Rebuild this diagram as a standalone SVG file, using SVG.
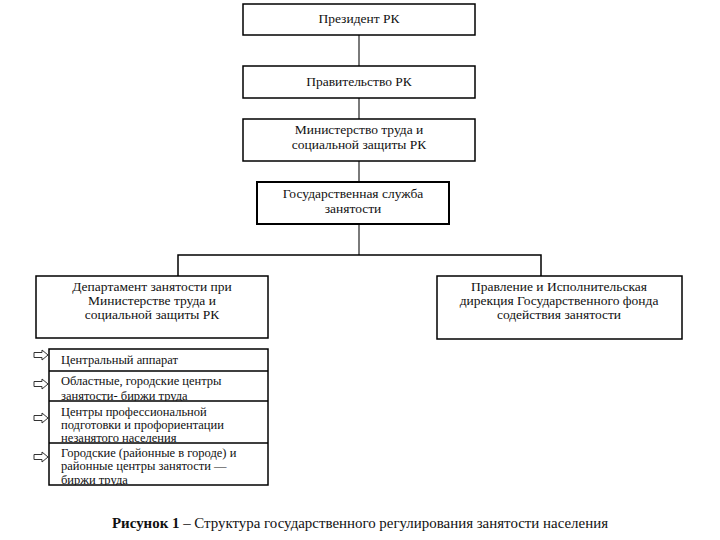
<svg xmlns="http://www.w3.org/2000/svg" width="720" height="540" viewBox="0 0 720 540">
<style>
.box{fill:#fff;stroke:#000;stroke-width:1.5}
.t{font-family:"Liberation Serif","Times New Roman",serif;font-size:13.5px;fill:#111;text-anchor:middle}
.s{font-family:"Liberation Serif","Times New Roman",serif;font-size:12.5px;fill:#111}
.cg{stroke:#7a7a7a;stroke-width:2;fill:none}
.cb{stroke:#000;stroke-width:1.5;fill:none}
.arr{fill:#fff;stroke:#333;stroke-width:1}
.cap{font-family:"Liberation Serif","Times New Roman",serif;font-size:14px;fill:#111}
</style>
<defs>
<clipPath id="r1"><rect x="49" y="349" width="219" height="22"/></clipPath>
<clipPath id="r2"><rect x="49" y="371" width="219" height="30"/></clipPath>
<clipPath id="r3"><rect x="49" y="401" width="219" height="42"/></clipPath>
<clipPath id="r4"><rect x="49" y="443" width="219" height="42"/></clipPath>
<path id="ar" d="M0,-2.5 H8 V-5 L14,0 L8,5 V2.5 H0 Z"/>
</defs>
<rect width="720" height="540" fill="#fff"/>
<g id="connectors">
<path class="cg" d="M359,35 V66 M359,98 V119 M359,161 V182 M359,224 V255"/>
<path class="cb" d="M178,276 V255 H541 V276"/>
</g>
<g id="president">
<rect class="box" x="243" y="4" width="232" height="31"/>
<text class="t" x="359" y="23">Президент РК</text>
</g>
<g id="government">
<rect class="box" x="243" y="66" width="232" height="32"/>
<text class="t" x="359" y="86">Правительство РК</text>
</g>
<g id="ministry">
<rect class="box" x="243" y="119" width="232" height="42"/>
<text class="t" x="359" y="134">Министерство труда и</text>
<text class="t" x="359" y="149">социальной защиты РК</text>
</g>
<g id="service">
<rect class="box" x="257" y="182" width="192" height="42" style="stroke-width:2"/>
<text class="t" x="353" y="198">Государственная служба</text>
<text class="t" x="353" y="213">занятости</text>
</g>
<g id="department">
<rect class="box" x="36" y="276" width="232" height="62"/>
<text class="t" x="152" y="291">Департамент занятости при</text>
<text class="t" x="152" y="305">Министерстве труда и</text>
<text class="t" x="152" y="319">социальной защиты РК</text>
</g>
<g id="fund">
<rect class="box" x="437" y="276" width="245" height="63"/>
<text class="t" x="559" y="291">Правление и Исполнительская</text>
<text class="t" x="559" y="305">дирекция Государственного фонда</text>
<text class="t" x="559" y="319">содействия занятости</text>
</g>
<g id="list">
<rect class="box" x="49" y="349" width="219" height="136"/>
<path class="cb" d="M49,371 H268 M49,401 H268 M49,443 H268"/>
<g clip-path="url(#r1)"><text class="s" x="61" y="364">Центральный аппарат</text></g>
<g clip-path="url(#r2)"><text class="s" x="61" y="385">Областные, городские центры</text><text class="s" x="61" y="400">занятости- биржи труда</text></g>
<g clip-path="url(#r3)"><text class="s" x="61" y="416">Центры профессиональной</text><text class="s" x="61" y="429">подготовки и профориентации</text><text class="s" x="61" y="442">незанятого населения</text></g>
<g clip-path="url(#r4)"><text class="s" x="61" y="457">Городские (районные в городе) и</text><text class="s" x="61" y="470">районные центры занятости —</text><text class="s" x="61" y="484">биржи труда</text></g>
</g>
<g id="arrows">
<use href="#ar" class="arr" x="34" y="355"/>
<use href="#ar" class="arr" x="34" y="384"/>
<use href="#ar" class="arr" x="34" y="418"/>
<use href="#ar" class="arr" x="34" y="457"/>
</g>
<text class="cap" x="112" y="528" textLength="496" lengthAdjust="spacingAndGlyphs"><tspan font-weight="bold">Рисунок 1</tspan> – Структура государственного регулирования занятости населения</text>
</svg>
